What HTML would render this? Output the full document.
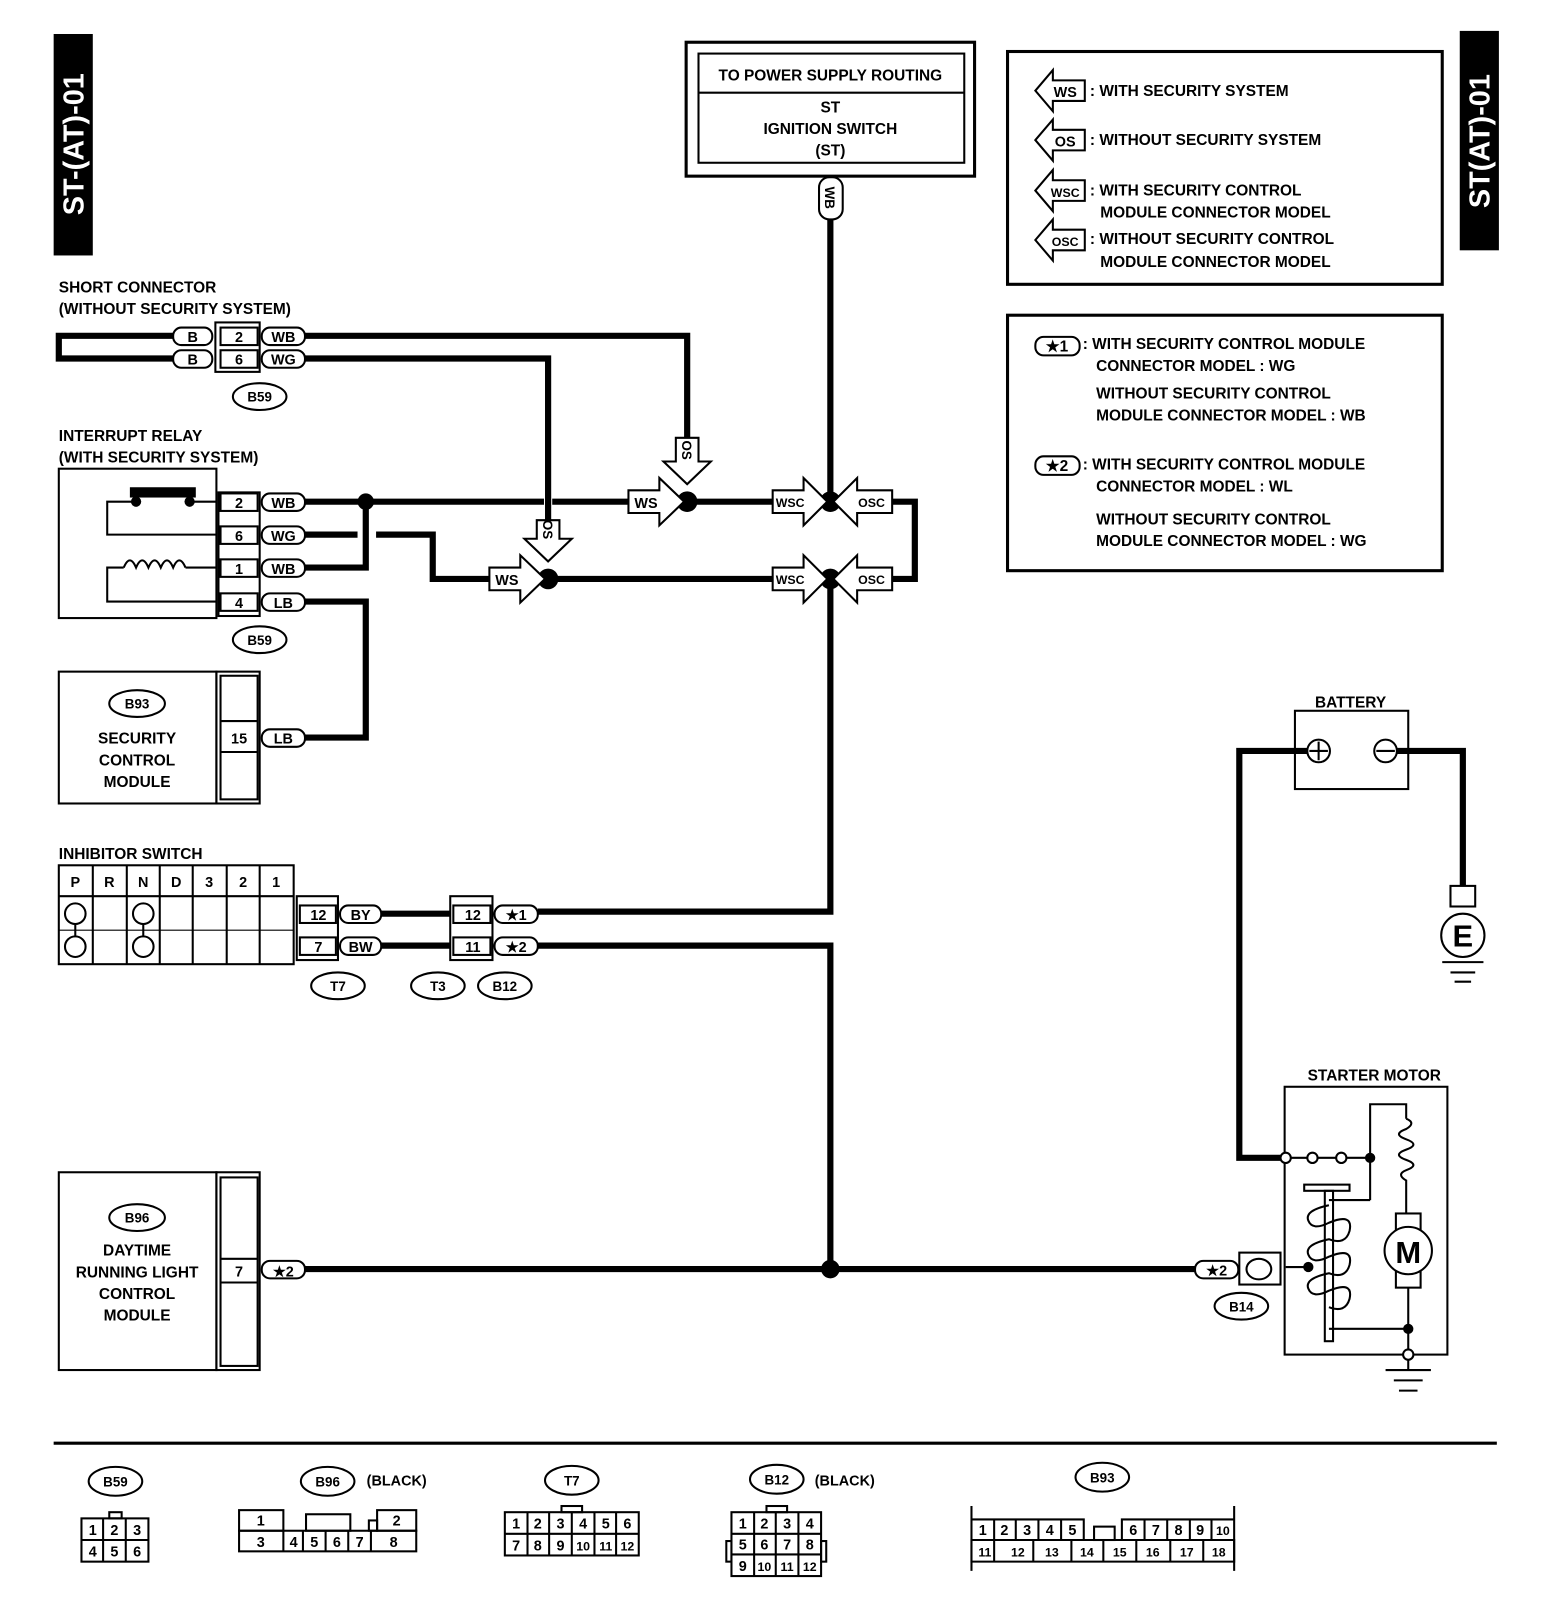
<!DOCTYPE html>
<html><head><meta charset="utf-8"><style>
html,body{margin:0;padding:0;background:#fff}
svg{display:block}
text{font-family:"Liberation Sans",Arial,sans-serif;font-weight:bold;fill:#000}
</style></head><body>
<svg width="1568" height="1608" viewBox="0 0 1522 1561" xmlns="http://www.w3.org/2000/svg">
<g font-size="15">
<!-- side labels -->
<rect x="52" y="33" width="38" height="215" fill="#000"/>
<text transform="translate(81,140) rotate(-90)" text-anchor="middle" font-size="28" style="fill:#fff">ST-(AT)-01</text>
<rect x="1417" y="30" width="38" height="213" fill="#000"/>
<text transform="translate(1446,137) rotate(-90)" text-anchor="middle" font-size="28" style="fill:#fff">ST(AT)-01</text>

<!-- power supply box -->
<rect x="666" y="41" width="280" height="130" fill="none" stroke="#000" stroke-width="3"/>
<rect x="678" y="52" width="258" height="106" fill="none" stroke="#000" stroke-width="2"/>
<line x1="678" y1="90" x2="936" y2="90" stroke="#000" stroke-width="2"/>
<text x="806" y="78" text-anchor="middle">TO POWER SUPPLY ROUTING</text>
<text x="806" y="109" text-anchor="middle">ST</text>
<text x="806" y="130" text-anchor="middle">IGNITION SWITCH</text>
<text x="806" y="151" text-anchor="middle">(ST)</text>
<rect x="795" y="172" width="23" height="41" rx="10" fill="#fff" stroke="#000" stroke-width="2"/>
<text transform="translate(801,192) rotate(90)" text-anchor="middle" font-size="13">WB</text>

<!-- legend 1 -->
<rect x="978" y="50" width="422" height="226" fill="none" stroke="#000" stroke-width="3"/>
<g fill="#fff" stroke="#000" stroke-width="2">
<polygon points="1005,88 1022,68 1022,78 1053,78 1053,98 1022,98 1022,108"/>
<polygon points="1005,136 1022,116 1022,126 1053,126 1053,146 1022,146 1022,156"/>
<polygon points="1005,185 1022,165 1022,175 1053,175 1053,195 1022,195 1022,205"/>
<polygon points="1005,233 1022,213 1022,223 1053,223 1053,243 1022,243 1022,253"/>
</g>
<text x="1034" y="94" text-anchor="middle" font-size="14">WS</text>
<text x="1034" y="142" text-anchor="middle" font-size="14">OS</text>
<text x="1034" y="191" text-anchor="middle" font-size="12">WSC</text>
<text x="1034" y="239" text-anchor="middle" font-size="12">OSC</text>
<text x="1058" y="93">: WITH SECURITY SYSTEM</text>
<text x="1058" y="141">: WITHOUT SECURITY SYSTEM</text>
<text x="1058" y="190">: WITH SECURITY CONTROL</text>
<text x="1068" y="211">MODULE CONNECTOR MODEL</text>
<text x="1058" y="237">: WITHOUT SECURITY CONTROL</text>
<text x="1068" y="259">MODULE CONNECTOR MODEL</text>

<!-- legend 2 -->
<rect x="978" y="306" width="422" height="248" fill="none" stroke="#000" stroke-width="3"/>
<rect x="1005" y="327" width="43" height="18" rx="8" fill="none" stroke="#000" stroke-width="2"/>
<text x="1026" y="341" text-anchor="middle">★1</text>
<rect x="1005" y="443" width="43" height="18" rx="8" fill="none" stroke="#000" stroke-width="2"/>
<text x="1026" y="457" text-anchor="middle">★2</text>
<text x="1051" y="339">: WITH SECURITY CONTROL MODULE</text>
<text x="1064" y="360">CONNECTOR MODEL  :  WG</text>
<text x="1064" y="387">WITHOUT SECURITY CONTROL</text>
<text x="1064" y="408">MODULE CONNECTOR MODEL :  WB</text>
<text x="1051" y="456">: WITH SECURITY CONTROL MODULE</text>
<text x="1064" y="477">CONNECTOR MODEL  :  WL</text>
<text x="1064" y="509">WITHOUT SECURITY CONTROL</text>
<text x="1064" y="530">MODULE CONNECTOR MODEL   :  WG</text>

<!-- wires -->
<g fill="none" stroke="#000" stroke-width="6">
<path d="M170,326 H57 V348 H170"/>
<path d="M296,326 H667 V430"/>
<path d="M296,348 H532 V505"/>
<path d="M296,487 H528 M536,487 H612"/>
<path d="M667,487 H752"/>
<path d="M355,487 V551 H296"/>
<path d="M296,519 H347"/>
<path d="M365,519 H420 V562 H477"/>
<path d="M532,562 H752"/>
<path d="M866,487 H888 V562 H866"/>
<path d="M806,213 V487"/>
<path d="M806,562 V885 H522"/>
<path d="M296,584 H355 V716 H296"/>
<path d="M370,887 H437 M370,918 H437"/>
<path d="M522,918 H806 V1232"/>
<path d="M296,1232 H1160"/>
<path d="M1269,729 H1203 V1124 H1246"/>
<path d="M1356,729 H1420 V860"/>
</g>
<g fill="#000">
<circle cx="355" cy="487" r="8"/>
<circle cx="667" cy="487" r="10"/>
<circle cx="532" cy="562" r="10"/>
<circle cx="806" cy="487" r="10"/>
<circle cx="806" cy="562" r="10"/>
<circle cx="806" cy="1232" r="9"/>
</g>

<!-- arrow tags on wires -->
<g fill="#fff" stroke="#000" stroke-width="2">
<polygon points="610,476 640,476 640,464 664,487 640,510 640,498 610,498"/>
<polygon points="475,551 505,551 505,539 529,562 505,585 505,573 475,573"/>
<polygon points="750,476 780,476 780,464 803,487 780,510 780,498 750,498"/>
<polygon points="750,551 780,551 780,539 803,562 780,585 780,573 750,573"/>
<polygon points="866,476 832,476 832,464 809,487 832,510 832,498 866,498"/>
<polygon points="866,551 832,551 832,539 809,562 832,585 832,573 866,573"/>
<polygon points="656,425 678,425 678,448 690,448 667,470 644,448 656,448"/>
<polygon points="521,505 543,505 543,523 555,523 532,545 509,523 521,523"/>
</g>
<text x="627" y="493" text-anchor="middle" font-size="14">WS</text>
<text x="492" y="568" text-anchor="middle" font-size="14">WS</text>
<text x="767" y="492" text-anchor="middle" font-size="12">WSC</text>
<text x="767" y="567" text-anchor="middle" font-size="12">WSC</text>
<text x="846" y="492" text-anchor="middle" font-size="12">OSC</text>
<text x="846" y="567" text-anchor="middle" font-size="12">OSC</text>
<text transform="translate(662,437) rotate(90)" text-anchor="middle" font-size="13">OS</text>
<text transform="translate(527,514) rotate(90)" text-anchor="middle" font-size="13">OS</text>

<!-- short connector -->
<text x="57" y="284">SHORT CONNECTOR</text>
<text x="57" y="305">(WITHOUT SECURITY SYSTEM)</text>
<g fill="#fff" stroke="#000" stroke-width="2">
<rect x="168" y="318" width="38" height="17" rx="8"/>
<rect x="168" y="340" width="38" height="17" rx="8"/>
<rect x="209" y="313" width="43" height="48"/>
<rect x="214" y="318" width="36" height="17"/>
<rect x="214" y="340" width="36" height="17"/>
<rect x="254" y="318" width="42" height="17" rx="8"/>
<rect x="254" y="340" width="42" height="17" rx="8"/>
<ellipse cx="252" cy="385" rx="26" ry="13"/>
</g>
<text x="187" y="332" text-anchor="middle" font-size="14">B</text>
<text x="187" y="354" text-anchor="middle" font-size="14">B</text>
<text x="232" y="332" text-anchor="middle" font-size="14">2</text>
<text x="232" y="354" text-anchor="middle" font-size="14">6</text>
<text x="275" y="332" text-anchor="middle" font-size="14">WB</text>
<text x="275" y="354" text-anchor="middle" font-size="14">WG</text>
<text x="252" y="390" text-anchor="middle" font-size="13">B59</text>

<!-- interrupt relay -->
<text x="57" y="428">INTERRUPT RELAY</text>
<text x="57" y="449">(WITH SECURITY SYSTEM)</text>
<rect x="57" y="455" width="153" height="145" fill="none" stroke="#000" stroke-width="2"/>
<g fill="none" stroke="#000" stroke-width="2">
<path d="M210,487 H188 M131,487 H104 V519 H210"/>
<path d="M210,551 H180 M120,551 H104 V584 H210"/>
<path d="M120,551 q6,-14 12,0 q6,-14 12,0 q6,-14 12,0 q6,-14 12,0 q6,-14 12,0"/>
</g>
<rect x="126" y="473" width="64" height="10" fill="#000"/>
<circle cx="132" cy="487" r="5" fill="#000"/><circle cx="184" cy="487" r="5" fill="#000"/>
<g fill="#fff" stroke="#000" stroke-width="2">
<rect x="212" y="478" width="40" height="120"/>
<rect x="214" y="479" width="36" height="17"/><rect x="214" y="511" width="36" height="17"/>
<rect x="214" y="543" width="36" height="17"/><rect x="214" y="576" width="36" height="17"/>
<rect x="254" y="479" width="42" height="17" rx="8"/><rect x="254" y="511" width="42" height="17" rx="8"/>
<rect x="254" y="543" width="42" height="17" rx="8"/><rect x="254" y="576" width="42" height="17" rx="8"/>
<ellipse cx="252" cy="621" rx="26" ry="13"/>
</g>
<text x="232" y="493" text-anchor="middle" font-size="14">2</text>
<text x="232" y="525" text-anchor="middle" font-size="14">6</text>
<text x="232" y="557" text-anchor="middle" font-size="14">1</text>
<text x="232" y="590" text-anchor="middle" font-size="14">4</text>
<text x="275" y="493" text-anchor="middle" font-size="14">WB</text>
<text x="275" y="525" text-anchor="middle" font-size="14">WG</text>
<text x="275" y="557" text-anchor="middle" font-size="14">WB</text>
<text x="275" y="590" text-anchor="middle" font-size="14">LB</text>
<text x="252" y="626" text-anchor="middle" font-size="13">B59</text>

<!-- B93 module -->
<rect x="57" y="652" width="153" height="128" fill="none" stroke="#000" stroke-width="2"/>
<rect x="210" y="652" width="42" height="128" fill="none" stroke="#000" stroke-width="2"/>
<rect x="214" y="656" width="36" height="120" fill="none" stroke="#000" stroke-width="2"/>
<line x1="214" y1="700" x2="250" y2="700" stroke="#000" stroke-width="2"/>
<line x1="214" y1="730" x2="250" y2="730" stroke="#000" stroke-width="2"/>
<rect x="254" y="708" width="42" height="17" rx="8" fill="#fff" stroke="#000" stroke-width="2"/>
<text x="232" y="722" text-anchor="middle" font-size="14">15</text>
<text x="275" y="722" text-anchor="middle" font-size="14">LB</text>
<ellipse cx="133" cy="683" rx="27" ry="13" fill="none" stroke="#000" stroke-width="2"/>
<text x="133" y="688" text-anchor="middle" font-size="13">B93</text>
<text x="133" y="722" text-anchor="middle">SECURITY</text>
<text x="133" y="743" text-anchor="middle">CONTROL</text>
<text x="133" y="764" text-anchor="middle">MODULE</text>

<!-- inhibitor switch -->
<text x="57" y="834">INHIBITOR SWITCH</text>
<g fill="none" stroke="#000" stroke-width="2">
<rect x="57" y="840" width="228" height="96"/>
<line x1="57" y1="870" x2="285" y2="870"/>
<line x1="57" y1="903" x2="285" y2="903" stroke-width="1"/>
<line x1="90" y1="840" x2="90" y2="936"/><line x1="123" y1="840" x2="123" y2="936"/>
<line x1="155" y1="840" x2="155" y2="936"/><line x1="187" y1="840" x2="187" y2="936"/>
<line x1="220" y1="840" x2="220" y2="936"/><line x1="252" y1="840" x2="252" y2="936"/>
<circle cx="73" cy="887" r="10"/><circle cx="73" cy="919" r="10"/>
<circle cx="139" cy="887" r="10"/><circle cx="139" cy="919" r="10"/>
<line x1="73" y1="897" x2="73" y2="909"/><line x1="139" y1="897" x2="139" y2="909"/>
</g>
<g font-size="14" text-anchor="middle">
<text x="73" y="861">P</text><text x="106" y="861">R</text><text x="139" y="861">N</text>
<text x="171" y="861">D</text><text x="203" y="861">3</text><text x="236" y="861">2</text><text x="268" y="861">1</text>
</g>
<g fill="#fff" stroke="#000" stroke-width="2">
<rect x="288" y="870" width="40" height="62"/>
<rect x="291" y="879" width="35" height="17"/><rect x="291" y="910" width="35" height="17"/>
<rect x="330" y="879" width="40" height="17" rx="8"/><rect x="330" y="910" width="40" height="17" rx="8"/>
<rect x="437" y="870" width="41" height="62"/>
<rect x="440" y="879" width="36" height="17"/><rect x="440" y="910" width="36" height="17"/>
<rect x="480" y="879" width="42" height="17" rx="8"/><rect x="480" y="910" width="42" height="17" rx="8"/>
<ellipse cx="328" cy="957" rx="26" ry="13"/>
<ellipse cx="425" cy="957" rx="26" ry="13"/>
<ellipse cx="490" cy="957" rx="26" ry="13"/>
</g>
<g font-size="14" text-anchor="middle">
<text x="309" y="893">12</text><text x="309" y="924">7</text>
<text x="350" y="893">BY</text><text x="350" y="924">BW</text>
<text x="459" y="893">12</text><text x="459" y="924">11</text>
<text x="501" y="893">★1</text><text x="501" y="924">★2</text>
<text x="328" y="962" font-size="13">T7</text><text x="425" y="962" font-size="13">T3</text><text x="490" y="962" font-size="13">B12</text>
</g>

<!-- B96 -->
<rect x="57" y="1138" width="153" height="192" fill="none" stroke="#000" stroke-width="2"/>
<rect x="210" y="1138" width="42" height="192" fill="none" stroke="#000" stroke-width="2"/>
<rect x="214" y="1143" width="36" height="183" fill="none" stroke="#000" stroke-width="2"/>
<line x1="214" y1="1222" x2="250" y2="1222" stroke="#000" stroke-width="2"/>
<line x1="214" y1="1245" x2="250" y2="1245" stroke="#000" stroke-width="2"/>
<rect x="254" y="1224" width="42" height="17" rx="8" fill="#fff" stroke="#000" stroke-width="2"/>
<text x="232" y="1239" text-anchor="middle" font-size="14">7</text>
<text x="275" y="1239" text-anchor="middle" font-size="14">★2</text>
<ellipse cx="133" cy="1182" rx="27" ry="13" fill="none" stroke="#000" stroke-width="2"/>
<text x="133" y="1187" text-anchor="middle" font-size="13">B96</text>
<text x="133" y="1219" text-anchor="middle">DAYTIME</text>
<text x="133" y="1240" text-anchor="middle">RUNNING LIGHT</text>
<text x="133" y="1261" text-anchor="middle">CONTROL</text>
<text x="133" y="1282" text-anchor="middle">MODULE</text>

<!-- battery -->
<text x="1311" y="687" text-anchor="middle">BATTERY</text>
<rect x="1257" y="690" width="110" height="76" fill="none" stroke="#000" stroke-width="2"/>
<circle cx="1280" cy="729" r="11" fill="#fff" stroke="#000" stroke-width="2"/>
<path d="M1271,729 H1289 M1280,720 V738" stroke="#000" stroke-width="2"/>
<circle cx="1345" cy="729" r="11" fill="#fff" stroke="#000" stroke-width="2"/>
<path d="M1336,729 H1354" stroke="#000" stroke-width="2"/>
<rect x="1408" y="860" width="24" height="20" fill="#fff" stroke="#000" stroke-width="2"/>
<circle cx="1420" cy="908" r="21" fill="#fff" stroke="#000" stroke-width="2"/>
<text x="1420" y="919" text-anchor="middle" font-size="30">E</text>
<path d="M1400,934 H1440 M1408,944 H1432 M1412,953 H1428" stroke="#000" stroke-width="2"/>

<!-- starter motor -->
<text x="1334" y="1049" text-anchor="middle">STARTER MOTOR</text>
<rect x="1247" y="1055" width="158" height="260" fill="none" stroke="#000" stroke-width="2"/>
<g fill="none" stroke="#000" stroke-width="2">
<path d="M1253,1124 H1269 M1279,1124 H1297 M1307,1124 H1330"/>
<path d="M1330,1165 V1072 H1365 V1086"/>
<path d="M1365,1086 q10,4 0,10 q-14,5 0,10 q14,5 0,10 q-14,5 0,10 q14,5 0,10 q-10,4 0,10 V1178"/>
<path d="M1330,1165 H1290"/>
<rect x="1266" y="1150" width="44" height="6"/>
<rect x="1286" y="1156" width="8" height="146"/>
<path d="M1290,1170 q-24,5 -20,15 q4,10 20,2 q24,-10 20,8 q-4,14 -20,8 q-24,5 -20,15 q4,10 20,2 q24,-10 20,8 q-4,14 -20,8 q-24,5 -20,15 q4,10 20,2 q24,-10 20,8 q-4,14 -20,8"/>
<path d="M1248,1230 H1270"/>
<path d="M1290,1290 H1367"/>
<rect x="1355" y="1178" width="24" height="72"/>
<path d="M1367,1250 V1310 M1367,1320 V1330"/>
<path d="M1345,1330 H1389 M1353,1340 H1381 M1358,1350 H1376"/>
</g>
<circle cx="1367" cy="1214" r="23" fill="#fff" stroke="#000" stroke-width="2"/>
<text x="1367" y="1226" text-anchor="middle" font-size="30">M</text>
<g fill="#fff" stroke="#000" stroke-width="2">
<circle cx="1248" cy="1124" r="5"/><circle cx="1274" cy="1124" r="5"/><circle cx="1302" cy="1124" r="5"/>
<circle cx="1367" cy="1315" r="5"/>
</g>
<g fill="#000"><circle cx="1330" cy="1124" r="5"/><circle cx="1270" cy="1230" r="5"/><circle cx="1367" cy="1290" r="5"/></g>
<g fill="#fff" stroke="#000" stroke-width="2">
<rect x="1160" y="1224" width="42" height="17" rx="8"/>
<rect x="1203" y="1216" width="40" height="31"/>
<ellipse cx="1222" cy="1232" rx="12" ry="10"/>
<ellipse cx="1205" cy="1268" rx="26" ry="13"/>
</g>
<text x="1181" y="1238" text-anchor="middle" font-size="14">★2</text>
<text x="1205" y="1273" text-anchor="middle" font-size="13">B14</text>

<!-- bottom separator -->
<line x1="52" y1="1401" x2="1453" y2="1401" stroke="#000" stroke-width="3"/>

<!-- connector diagrams -->
<g fill="none" stroke="#000" stroke-width="2">
<ellipse cx="112" cy="1438" rx="26" ry="14"/>
<ellipse cx="318" cy="1438" rx="26" ry="14"/>
<ellipse cx="555" cy="1437" rx="26" ry="14"/>
<ellipse cx="754" cy="1436" rx="26" ry="14"/>
<ellipse cx="1070" cy="1434" rx="26" ry="14"/>
<!-- B59 -->
<rect x="79" y="1474" width="65" height="42"/><line x1="79" y1="1495" x2="144" y2="1495"/>
<line x1="100" y1="1474" x2="100" y2="1516"/><line x1="122" y1="1474" x2="122" y2="1516"/>
<rect x="106" y="1468" width="12" height="6"/>
<!-- B96 -->
<rect x="232" y="1466" width="43" height="20"/><rect x="297" y="1470" width="43" height="16"/>
<rect x="366" y="1466" width="38" height="20"/><rect x="358" y="1476" width="8" height="10"/>
<rect x="232" y="1486" width="172" height="20"/>
<line x1="275" y1="1486" x2="275" y2="1506"/><line x1="294" y1="1486" x2="294" y2="1506"/>
<line x1="316" y1="1486" x2="316" y2="1506"/><line x1="338" y1="1486" x2="338" y2="1506"/>
<line x1="360" y1="1486" x2="360" y2="1506"/>
<!-- T7 -->
<rect x="490" y="1468" width="130" height="42"/><line x1="490" y1="1489" x2="620" y2="1489"/>
<line x1="512" y1="1468" x2="512" y2="1510"/><line x1="533" y1="1468" x2="533" y2="1510"/>
<line x1="555" y1="1468" x2="555" y2="1510"/><line x1="577" y1="1468" x2="577" y2="1510"/>
<line x1="598" y1="1468" x2="598" y2="1510"/>
<rect x="545" y="1462" width="20" height="6"/>
<!-- B12 -->
<rect x="710" y="1468" width="87" height="62"/><line x1="710" y1="1489" x2="797" y2="1489"/>
<line x1="710" y1="1509" x2="797" y2="1509"/>
<line x1="732" y1="1468" x2="732" y2="1530"/><line x1="753" y1="1468" x2="753" y2="1530"/>
<line x1="775" y1="1468" x2="775" y2="1530"/>
<rect x="744" y="1462" width="20" height="6"/>
<rect x="705" y="1496" width="5" height="20"/><rect x="797" y="1496" width="5" height="20"/>
<!-- B93 -->
<path d="M943,1462 V1525 M1198,1462 V1525"/>
<path d="M943,1495 H1198 V1516 H943 Z"/>
<path d="M943,1475 H1052 V1495 M1089,1495 V1475 H1198"/>
<rect x="1062" y="1482" width="20" height="13"/>
<line x1="965" y1="1475" x2="965" y2="1516"/><line x1="986" y1="1475" x2="986" y2="1495"/>
<line x1="1008" y1="1475" x2="1008" y2="1495"/><line x1="1030" y1="1475" x2="1030" y2="1495"/>
<line x1="1111" y1="1475" x2="1111" y2="1495"/><line x1="1133" y1="1475" x2="1133" y2="1495"/>
<line x1="1155" y1="1475" x2="1155" y2="1495"/><line x1="1176" y1="1475" x2="1176" y2="1495"/>
<line x1="1003" y1="1495" x2="1003" y2="1516"/><line x1="1040" y1="1495" x2="1040" y2="1516"/>
<line x1="1071" y1="1495" x2="1071" y2="1516"/><line x1="1103" y1="1495" x2="1103" y2="1516"/>
<line x1="1136" y1="1495" x2="1136" y2="1516"/><line x1="1168" y1="1495" x2="1168" y2="1516"/>
</g>
<g font-size="14" text-anchor="middle">
<text x="112" y="1443" font-size="13">B59</text>
<text x="318" y="1443" font-size="13">B96</text><text x="385" y="1442">(BLACK)</text>
<text x="555" y="1442" font-size="13">T7</text>
<text x="754" y="1441" font-size="13">B12</text><text x="820" y="1442">(BLACK)</text>
<text x="1070" y="1439" font-size="13">B93</text>
<text x="90" y="1490">1</text><text x="111" y="1490">2</text><text x="133" y="1490">3</text>
<text x="90" y="1511">4</text><text x="111" y="1511">5</text><text x="133" y="1511">6</text>
<text x="253" y="1481">1</text><text x="385" y="1481">2</text>
<text x="253" y="1502">3</text><text x="285" y="1502">4</text><text x="305" y="1502">5</text>
<text x="327" y="1502">6</text><text x="349" y="1502">7</text><text x="382" y="1502">8</text>
<text x="501" y="1484">1</text><text x="522" y="1484">2</text><text x="544" y="1484">3</text>
<text x="566" y="1484">4</text><text x="588" y="1484">5</text><text x="609" y="1484">6</text>
<text x="501" y="1505">7</text><text x="522" y="1505">8</text><text x="544" y="1505">9</text>
<text x="566" y="1505" font-size="12">10</text><text x="588" y="1505" font-size="12">11</text><text x="609" y="1505" font-size="12">12</text>
<text x="721" y="1484">1</text><text x="742" y="1484">2</text><text x="764" y="1484">3</text><text x="786" y="1484">4</text>
<text x="721" y="1504">5</text><text x="742" y="1504">6</text><text x="764" y="1504">7</text><text x="786" y="1504">8</text>
<text x="721" y="1525">9</text><text x="742" y="1525" font-size="12">10</text><text x="764" y="1525" font-size="12">11</text><text x="786" y="1525" font-size="12">12</text>
<text x="954" y="1490">1</text><text x="975" y="1490">2</text><text x="997" y="1490">3</text>
<text x="1019" y="1490">4</text><text x="1041" y="1490">5</text>
<text x="1100" y="1490">6</text><text x="1122" y="1490">7</text><text x="1144" y="1490">8</text>
<text x="1165" y="1490">9</text><text x="1187" y="1490" font-size="12">10</text>
<text x="956" y="1511" font-size="12">11</text><text x="988" y="1511" font-size="12">12</text>
<text x="1021" y="1511" font-size="12">13</text><text x="1055" y="1511" font-size="12">14</text>
<text x="1087" y="1511" font-size="12">15</text><text x="1119" y="1511" font-size="12">16</text>
<text x="1152" y="1511" font-size="12">17</text><text x="1183" y="1511" font-size="12">18</text>
</g>
</g>
</svg>
</body></html>
